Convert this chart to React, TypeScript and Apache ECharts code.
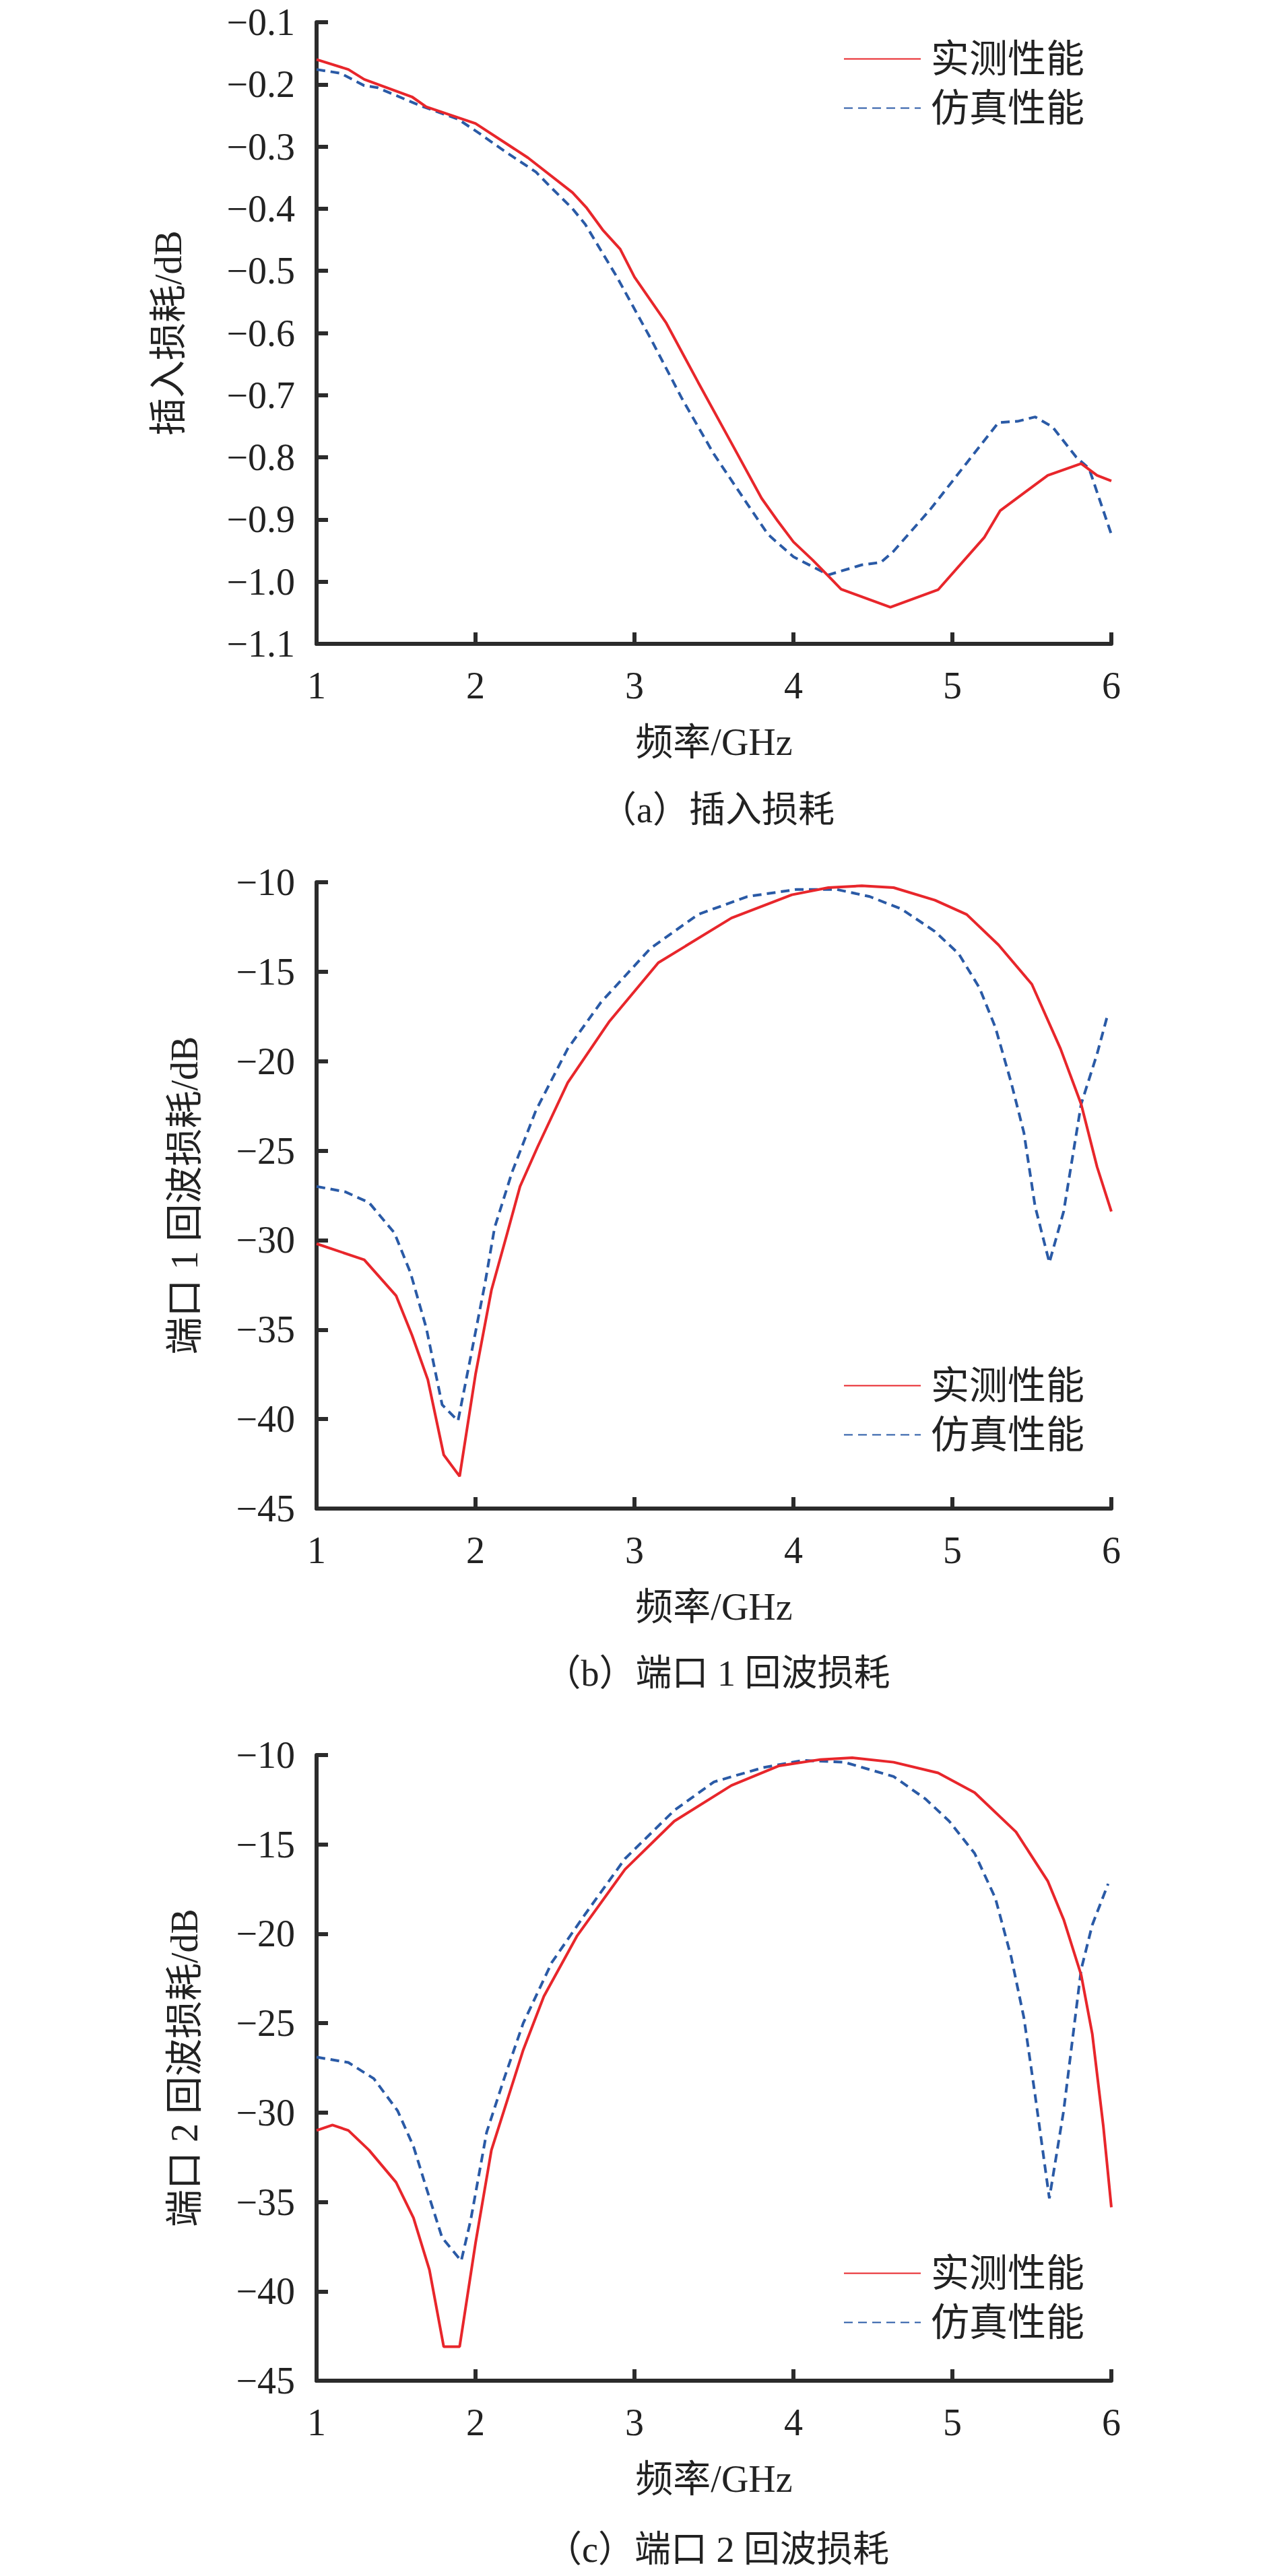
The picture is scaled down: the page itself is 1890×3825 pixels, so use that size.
import React, { useEffect, useRef } from "react";
import * as echarts from "echarts";

// ---------- Data ----------
const xTicks = [1, 2, 3, 4, 5, 6];
const seriesNames = ["实测性能", "仿真性能"];
const yNames = ["插入损耗/dB", "端口 1 回波损耗/dB", "端口 2 回波损耗/dB"];
const xName = "频率/GHz";
const captions = ["（a）插入损耗", "（b）端口 1 回波损耗", "（c）端口 2 回波损耗"];

// (a) insertion loss
const ilMeasF = [1.0, 1.2, 1.3, 1.6, 1.69, 2.0, 2.33, 2.61, 2.7, 2.8, 2.91, 3.0, 3.2, 3.4, 3.61, 3.8, 3.9, 4.0, 4.12, 4.22, 4.3, 4.61, 4.91, 5.2, 5.3, 5.6, 5.81, 5.91, 6.0];
const ilMeasV = [-0.16, -0.176, -0.192, -0.22, -0.236, -0.263, -0.318, -0.374, -0.399, -0.434, -0.465, -0.51, -0.584, -0.679, -0.777, -0.866, -0.902, -0.936, -0.965, -0.991, -1.012, -1.041, -1.013, -0.929, -0.886, -0.829, -0.81, -0.829, -0.838];
const ilSimF = [1.0, 1.15, 1.3, 1.38, 1.66, 1.89, 2.02, 2.18, 2.38, 2.48, 2.61, 2.69, 2.89, 3.1, 3.3, 3.5, 3.71, 3.84, 4.0, 4.22, 4.43, 4.55, 4.63, 4.86, 5.09, 5.29, 5.41, 5.52, 5.63, 5.78, 5.86, 6.0];
const ilSimV = [-0.176, -0.182, -0.202, -0.205, -0.235, -0.256, -0.278, -0.307, -0.341, -0.367, -0.4, -0.425, -0.51, -0.608, -0.706, -0.795, -0.875, -0.924, -0.96, -0.989, -0.973, -0.969, -0.951, -0.884, -0.809, -0.744, -0.742, -0.735, -0.751, -0.8, -0.818, -0.924];

// (b) port 1 return loss
const rl1MeasF = [1.0, 1.3, 1.5, 1.6, 1.7, 1.8, 1.9, 2.0, 2.1, 2.2, 2.28, 2.39, 2.58, 2.84, 3.15, 3.61, 3.99, 4.22, 4.43, 4.63, 4.89, 5.09, 5.29, 5.5, 5.68, 5.81, 5.91, 6.0];
const rl1MeasV = [-30.2, -31.1, -33.1, -35.3, -37.8, -42.0, -43.2, -37.5, -32.8, -29.6, -27.0, -24.8, -21.2, -17.8, -14.5, -12.0, -10.7, -10.3, -10.2, -10.3, -11.0, -11.8, -13.5, -15.7, -19.3, -22.4, -25.9, -28.4];
const rl1SimF = [1.0, 1.18, 1.33, 1.49, 1.59, 1.69, 1.79, 1.89, 1.97, 2.06, 2.12, 2.23, 2.38, 2.58, 2.79, 3.1, 3.4, 3.71, 4.02, 4.27, 4.48, 4.68, 4.89, 5.04, 5.17, 5.27, 5.37, 5.45, 5.52, 5.61, 5.7, 5.81, 5.91, 5.98];
const rl1SimV = [-27.0, -27.3, -27.9, -29.6, -31.8, -34.9, -39.2, -40.1, -36.5, -32.4, -29.3, -26.2, -22.75, -19.3, -16.7, -13.7, -11.8, -10.8, -10.4, -10.4, -10.8, -11.5, -12.75, -14.0, -15.9, -18.1, -21.2, -24.0, -28.1, -31.25, -28.4, -22.4, -19.6, -17.3];

// (c) port 2 return loss
const rl2MeasF = [1.0, 1.1, 1.2, 1.33, 1.5, 1.61, 1.71, 1.8, 1.9, 2.0, 2.1, 2.2, 2.3, 2.43, 2.64, 2.94, 3.25, 3.61, 3.91, 4.17, 4.37, 4.63, 4.91, 5.14, 5.4, 5.6, 5.7, 5.81, 5.88, 5.95, 6.0];
const rl2MeasV = [-31.0, -30.7, -31.0, -32.1, -33.9, -35.9, -38.8, -43.1, -43.1, -37.3, -32.1, -29.3, -26.5, -23.5, -20.1, -16.4, -13.7, -11.7, -10.6, -10.25, -10.15, -10.4, -11.0, -12.1, -14.3, -17.05, -19.2, -22.3, -25.6, -30.8, -35.3];
const rl2SimF = [1.0, 1.2, 1.36, 1.51, 1.61, 1.69, 1.79, 1.91, 1.97, 2.07, 2.18, 2.3, 2.48, 2.69, 2.94, 3.25, 3.5, 3.81, 4.06, 4.32, 4.63, 4.83, 4.98, 5.14, 5.27, 5.37, 5.45, 5.52, 5.61, 5.7, 5.81, 5.88, 5.98];
const rl2SimV = [-26.9, -27.2, -28.1, -29.9, -31.9, -34.2, -37.0, -38.3, -36.0, -31.1, -28.1, -25.0, -21.6, -18.9, -15.8, -13.1, -11.5, -10.7, -10.3, -10.4, -11.2, -12.45, -13.7, -15.5, -18.0, -21.3, -24.7, -29.0, -34.8, -29.9, -22.0, -19.5, -17.2];

const yRanges = [
  { min: -1.1, max: -0.1, interval: 0.1, decimals: 1 },
  { min: -45, max: -10, interval: 5, decimals: 0 },
  { min: -45, max: -10, interval: 5, decimals: 0 },
];

const pairs = (f: number[], v: number[]) => f.map((x, i) => [x, v[i]]);

const FONT = "'Liberation Serif', 'Times New Roman', 'Noto Sans CJK SC', serif";
const AXIS_COLOR = "#2b2b2b";
const RED = "#e8262b";
const BLUE = "#2a5aa6";

export default function App() {
  const ref = useRef<HTMLDivElement>(null);

  useEffect(() => {
    if (!ref.current) return;
    const chart = echarts.init(ref.current, null, { renderer: "svg" });

    const grids = [
      { top: 33, height: 923 },
      { top: 1310, height: 930 },
      { top: 2606, height: 929 },
    ];
    const yNameGaps = [192, 168, 168];
    const legendTops = [54, 2024, 3342];
    const captionY = [1203, 2485, 3786];

    const data = [
      [pairs(ilMeasF, ilMeasV), pairs(ilSimF, ilSimV)],
      [pairs(rl1MeasF, rl1MeasV), pairs(rl1SimF, rl1SimV)],
      [pairs(rl2MeasF, rl2MeasV), pairs(rl2SimF, rl2SimV)],
    ];

    const axisLine = { show: true, lineStyle: { color: AXIS_COLOR, width: 6 } };
    const axisTick = { show: true, inside: true, length: 17, lineStyle: { color: AXIS_COLOR, width: 6 } };

    const option: any = {
      animation: false,
      backgroundColor: "#ffffff",
      grid: grids.map((g) => ({ left: 470, top: g.top, width: 1180, height: g.height, containLabel: false })),
      xAxis: grids.map((_, i) => ({
        type: "value",
        gridIndex: i,
        min: xTicks[0],
        max: xTicks[xTicks.length - 1],
        interval: 1,
        name: xName,
        nameLocation: "middle",
        nameGap: 118,
        nameTextStyle: { fontFamily: FONT, fontSize: 56, color: "#222" },
        axisLine,
        axisTick,
        splitLine: { show: false },
        axisLabel: { fontFamily: FONT, fontSize: 56, color: "#222", margin: 34 },
      })),
      yAxis: yRanges.map((r, i) => ({
        type: "value",
        gridIndex: i,
        min: r.min,
        max: r.max,
        interval: r.interval,
        name: yNames[i],
        nameLocation: "middle",
        nameGap: yNameGaps[i],
        nameRotate: 90,
        nameTextStyle: { fontFamily: FONT, fontSize: 56, color: "#222" },
        axisLine,
        axisTick,
        splitLine: { show: false },
        axisLabel: {
          fontFamily: FONT,
          fontSize: 56,
          color: "#222",
          margin: 32,
          formatter: (v: number) => {
            const s = Math.abs(v).toFixed(r.decimals);
            return (v < 0 ? "\u2212" : "") + s;
          },
        },
      })),
      legend: legendTops.map((t) => ({
        data: seriesNames,
        orient: "vertical",
        left: 1247,
        top: t,
        itemWidth: 114,
        itemHeight: 14,
        itemGap: 16,
        selectedMode: false,
        itemStyle: { opacity: 0 },
        textStyle: { fontFamily: FONT, fontSize: 57, color: "#222", padding: [0, 0, 0, 10] },
      })),
      series: data.flatMap((d, i) => [
        {
          name: seriesNames[0],
          type: "line",
          xAxisIndex: i,
          yAxisIndex: i,
          data: d[0],
          symbol: "none",
          lineStyle: { color: RED, width: 4, type: "solid" },
          itemStyle: { color: RED },
          z: 3,
        },
        {
          name: seriesNames[1],
          type: "line",
          xAxisIndex: i,
          yAxisIndex: i,
          data: d[1],
          symbol: "none",
          lineStyle: { color: BLUE, width: 4, type: [13, 8] },
          itemStyle: { color: BLUE },
          z: 2,
        },
      ]),
      graphic: captions.map((c, i) => ({
        type: "text",
        x: 1065,
        y: captionY[i],
        style: {
          text: c,
          fontFamily: FONT,
          fontSize: 54,
          fill: "#222",
          textAlign: "center",
          textVerticalAlign: "middle",
        },
      })),
    };

    chart.setOption(option);
    return () => chart.dispose();
  }, []);

  return (
    <div
      ref={ref}
      style={{ position: "absolute", left: 0, top: 0, width: 1890, height: 3825 }}
    />
  );
}
